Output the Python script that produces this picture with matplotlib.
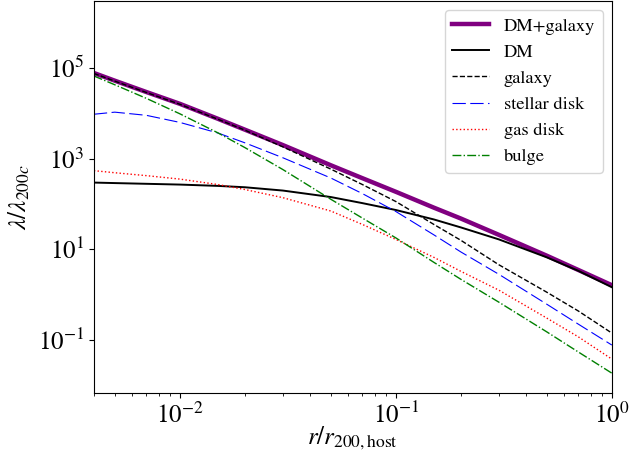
import numpy as np
import matplotlib
matplotlib.use("Agg")
import matplotlib.pyplot as plt
from matplotlib.ticker import NullLocator

plt.rcParams['font.family'] = 'STIXGeneral'
plt.rcParams['mathtext.fontset'] = 'stix'

# radius in units of r200,host
r = [0.004, 0.005, 0.007, 0.01, 0.015, 0.02, 0.03, 0.05, 0.07, 0.1,
     0.15, 0.2, 0.3, 0.5, 0.7, 1.0]

# log10(lambda / lambda_200c)
log_total = [4.89, 4.72, 4.47, 4.21, 3.88, 3.64, 3.30, 2.855, 2.57, 2.27,
             1.92, 1.68, 1.32, 0.86, 0.545, 0.21]
log_dm = [2.473, 2.462, 2.446, 2.429, 2.40, 2.37, 2.297, 2.154, 2.02, 1.868,
          1.66, 1.484, 1.22, 0.824, 0.527, 0.165]
log_galaxy = [4.88, 4.71, 4.46, 4.20, 3.87, 3.63, 3.26, 2.77, 2.43, 2.055,
              1.55, 1.20, 0.66, 0.055, -0.36, -0.846]
log_stellar = [3.98, 4.026, 3.956, 3.80, 3.567, 3.35, 3.02, 2.574, 2.23, 1.835,
               1.32, 0.943, 0.45, -0.21, -0.65, -1.11]
log_gas = [2.736, 2.69, 2.626, 2.55, 2.43, 2.32, 2.14, 1.846, 1.55, 1.22,
           0.824, 0.516, 0.10, -0.516, -0.93, -1.42]
log_bulge = [4.824, 4.63, 4.33, 3.99, 3.57, 3.245, 2.76, 2.105, 1.69, 1.253,
             0.714, 0.34, -0.165, -0.82, -1.264, -1.73]

fig = plt.figure(figsize=(6.30, 4.58), dpi=100)
ax = fig.add_axes([0.149, 0.1419, 0.8222, 0.8559])

ax.plot(r, 10**np.array(log_total), color='purple', lw=3.2, label='DM+galaxy')
ax.plot(r, 10**np.array(log_dm), color='k', lw=1.4, label='DM')
ax.plot(r, 10**np.array(log_galaxy), color='k', lw=1, ls='--', label='galaxy')
ax.plot(r, 10**np.array(log_stellar), color='b', lw=0.8, ls=(0, (12, 4)),
        label='stellar disk')
ax.plot(r, 10**np.array(log_gas), color='r', lw=1, ls=':', label='gas disk')
ax.plot(r, 10**np.array(log_bulge), color='g', lw=1, ls='-.', label='bulge')

ax.set_xscale('log')
ax.set_yscale('log')
ax.set_xlim(0.004, 1.0)
ax.set_ylim(6.8e-3, 3e6)
ax.set_yticks([1e-1, 1e1, 1e3, 1e5])
ax.yaxis.set_minor_locator(NullLocator())
ax.tick_params(labelsize=18)

ax.set_xlabel(r'$r/r_{200,\rm host}$', fontsize=18, labelpad=-3)
ax.set_ylabel(r'$\lambda/\lambda_{200c}$', fontsize=18)
ax.legend(loc='upper right', fontsize=13.3)

fig.savefig('out.png', dpi=100)
